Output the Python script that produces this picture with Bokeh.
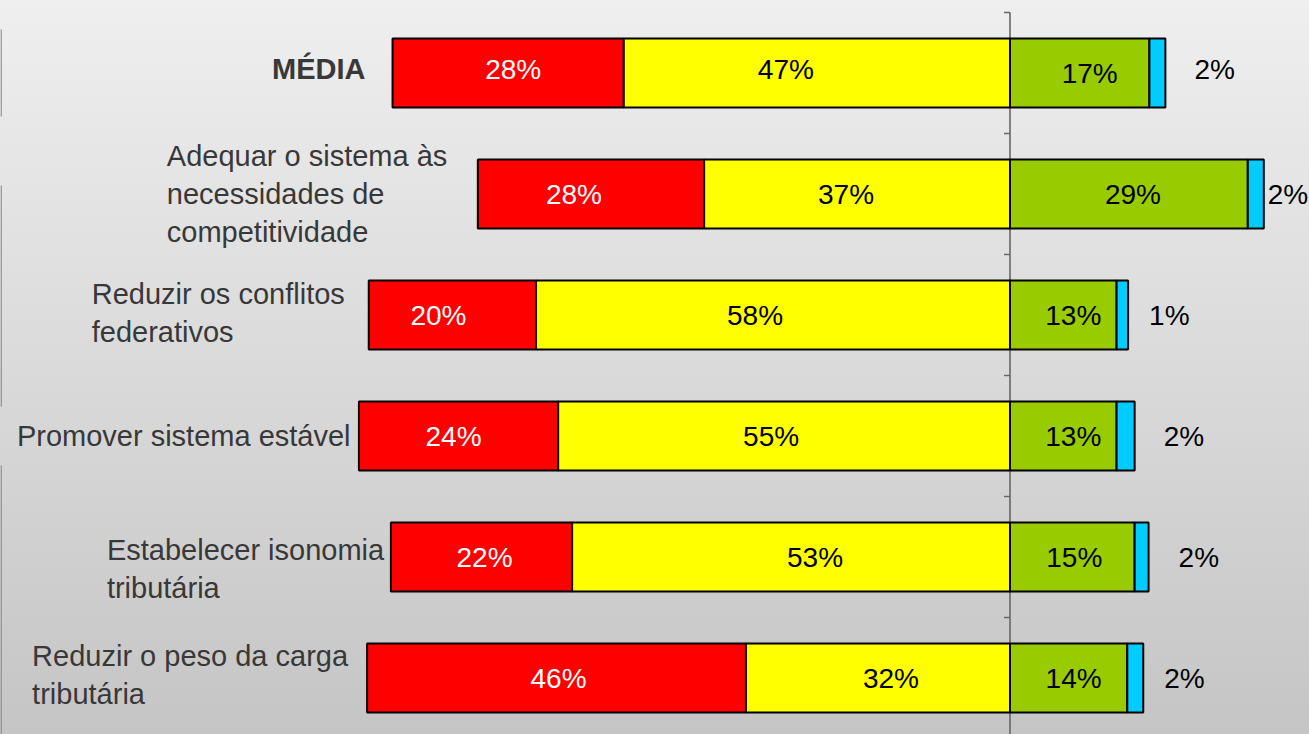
import numpy as np
from bokeh.plotting import figure
from bokeh.models import Range1d, ColumnDataSource, GlobalInlineStyleSheet
from bokeh.core.properties import value
from bokeh.embed import file_html
from bokeh.resources import INLINE

# ---------------- data ----------------
categories = [
    "MÉDIA",
    "Adequar o sistema às\nnecessidades de\ncompetitividade",
    "Reduzir os conflitos\nfederativos",
    "Promover sistema estável",
    "Estabelecer isonomia\ntributária",
    "Reduzir o peso da carga\ntributária",
]
red = [28.2, 27.6, 20.4, 24.3, 22.1, 46.2]
yellow = [47.1, 37.3, 57.8, 55.1, 53.4, 32.2]
green = [17.0, 29.0, 13.0, 13.0, 15.2, 14.3]
blue = [1.95, 1.95, 1.4, 2.2, 1.7, 1.95]

# ---------------- layout ----------------
W, H = 1309, 734
PX_PER_UNIT = 8.2       # px per percentage point
ZERO_PX = 1009.5        # frame x of the zero line
ROW_PX = 121            # px per category band
ROW0_PX = 72.5          # frame y of first row centre
BAR_H = 0.57
FONT = "Liberation Sans"

cat_dx = [-27, -311, -277, -342, -284, -335]   # label offset from bar start (px)
cat_dy = [-4, 0, -2, 0, 12, -3]
out_dx = [29, 4, 21, 29, 30, 21]               # outer label offset from bar end (px)
out_dy = [-4, 0, 0, 0, 0, 0]
red_dx = [5, -17, -14, -5, 3, 2]
yel_dx = [-31, -11, -18, -13, 24, 13]
grn_dx = [10, 4, 10, 10, 2, 5]
red_dy = [-4, 0, 0, 0, 0, 0]
yel_dy = [-4, 0, 0, 0, 0, 0]
grn_dy = [0, 0, 0, 0, 0, 0]

n = len(categories)
idx = list(range(n))

p = figure(width=W, height=H, output_backend="svg", toolbar_location=None,
           x_range=Range1d(-ZERO_PX / PX_PER_UNIT, (W - ZERO_PX) / PX_PER_UNIT),
           y_range=Range1d((H - ROW0_PX) / ROW_PX, -ROW0_PX / ROW_PX),
           min_border_left=0, min_border_right=0, min_border_top=0, min_border_bottom=0)
p.axis.visible = False
p.grid.visible = False
p.outline_line_color = None
p.background_fill_alpha = 0
p.border_fill_alpha = 0
p.stylesheets = [GlobalInlineStyleSheet(css="html{min-height:100%;background:linear-gradient(to bottom,#efefef 0%,#c5c5c5 100%) no-repeat;} body{background:transparent;}")]

# decorative slide edge lines at far left
xl = -ZERO_PX / PX_PER_UNIT + 0.6 / PX_PER_UNIT
edge_y0 = [(29 - ROW0_PX) / ROW_PX, (185 - ROW0_PX) / ROW_PX, (465 - ROW0_PX) / ROW_PX]
edge_y1 = [(116 - ROW0_PX) / ROW_PX, (406 - ROW0_PX) / ROW_PX, (740 - ROW0_PX) / ROW_PX]
p.segment(x0=[xl] * 3, x1=[xl] * 3, y0=edge_y0, y1=edge_y1, line_color="#888888", line_width=1.3)

# centre axis line with ticks at band boundaries
bounds = [i - 0.5 for i in range(n + 1)]
p.segment(x0=[0], x1=[0], y0=[bounds[0]], y1=[bounds[-1] + 1], line_color="#666666", line_width=1.6)
p.segment(x0=[-6 / PX_PER_UNIT] * len(bounds), x1=[0] * len(bounds), y0=bounds, y1=bounds,
          line_color="#666666", line_width=1.4)

r = np.array(red); y_ = np.array(yellow); g = np.array(green); b = np.array(blue)
segs = [
    (-(r + y_), -y_, "#ff0000"),
    (-y_, np.zeros(n), "#ffff00"),
    (np.zeros(n), g, "#99cc00"),
    (g, g + b, "#00ccff"),
]
for left, right, col in segs:
    p.hbar(y=idx, left=left, right=right, height=BAR_H, fill_color=col,
           line_color="black", line_width=2)

# inner value labels
def lab(vals):
    return [f"{round(v)}%" for v in vals]

for left, right, vals, col, dx, dy in [
    (-(r + y_), -y_, red, "white", red_dx, red_dy),
    (-y_, np.zeros(n), yellow, "black", yel_dx, yel_dy),
    (np.zeros(n), g, green, "black", grn_dx, grn_dy),
]:
    src = ColumnDataSource(dict(x=(left + right) / 2, y=idx, t=lab(vals), dx=dx, dy=dy))
    p.text(x="x", y="y", text="t", source=src, x_offset="dx", y_offset="dy",
           text_align="center", text_baseline="middle",
           text_font=value(FONT), text_font_size="28px", text_color=col)

# outer labels for blue
src = ColumnDataSource(dict(x=g + b, y=idx, t=lab(blue), dx=out_dx, dy=out_dy))
p.text(x="x", y="y", text="t", source=src, x_offset="dx", y_offset="dy", text_align="left",
       text_baseline="middle", text_font=value(FONT), text_font_size="28px", text_color="black")

# category labels
starts = -(r + y_)
src = ColumnDataSource(dict(x=starts[1:], y=idx[1:], t=categories[1:], dx=cat_dx[1:], dy=cat_dy[1:]))
p.text(x="x", y="y", text="t", source=src, x_offset="dx", y_offset="dy", text_align="left",
       text_baseline="middle", text_font=value(FONT), text_font_size="29px",
       text_color="#383838", text_line_height=1.2)
p.text(x=[starts[0]], y=[idx[0]], text=[categories[0]], x_offset=cat_dx[0], y_offset=cat_dy[0],
       text_align="right", text_baseline="middle", text_font=value(FONT), text_font_size="29px",
       text_font_style="bold", text_color="#383838")

open("out.html", "w").write(file_html(p, INLINE))
